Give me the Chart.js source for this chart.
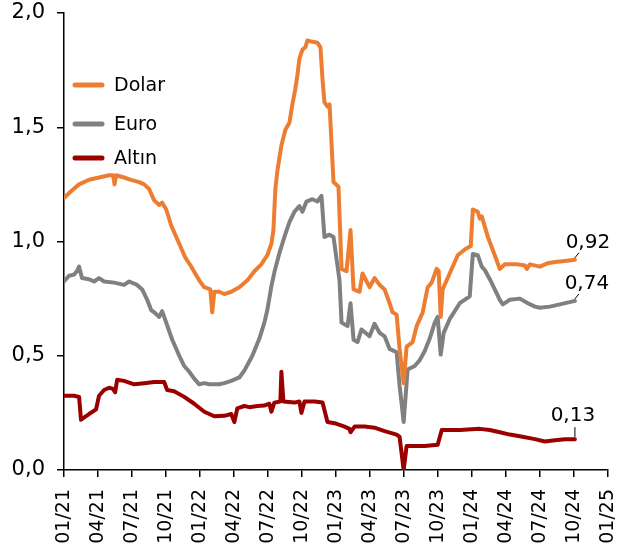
<!DOCTYPE html>
<html>
<head>
<meta charset="utf-8">
<script src="https://cdn.jsdelivr.net/npm/chart.js@4/dist/chart.umd.min.js"></script>
<style>
  html, body { margin: 0; padding: 0; background: #ffffff; }
  #wrap { width: 630px; height: 550px; }
</style>
</head>
<body>
<div id="wrap"><canvas id="c" width="630" height="550"></canvas></div>
<script>
// x values: months since 01/2021
const tickMonths = [0,3,6,9,12,15,18,21,24,27,30,33,36,39,42,45,48];
const tickLabels = ["01/21","04/21","07/21","10/21","01/22","04/22","07/22","10/22","01/23","04/23","07/23","10/23","01/24","04/24","07/24","10/24","01/25"];
const yTicks = [0, 0.5, 1.0, 1.5, 2.0];
const seriesNames = ["Dolar", "Euro", "Altın"];
const endLabels = ["0,92", "0,74", "0,13"];

const dolarMonths = [0.00,0.62,1.33,2.21,3.09,3.98,4.33,4.46,4.60,5.30,5.92,6.63,7.07,7.51,7.96,8.40,8.66,9.02,9.46,10.17,10.70,11.23,11.93,12.38,12.91,13.08,13.26,13.70,14.14,14.76,15.47,16.18,16.80,17.41,17.94,18.30,18.48,18.65,18.83,19.18,19.54,19.89,20.15,20.42,20.60,20.77,21.04,21.30,21.48,21.83,22.36,22.63,22.81,22.98,23.25,23.43,23.78,24.22,24.49,24.93,25.28,25.55,26.08,26.34,26.96,27.40,27.85,28.29,28.73,28.99,29.35,29.61,29.97,30.23,30.76,31.12,31.65,32.09,32.44,32.88,33.06,33.24,33.41,34.03,34.74,35.36,35.89,36.07,36.51,36.69,36.86,37.40,38.01,38.45,38.90,39.34,40.05,40.66,40.84,41.11,41.99,42.70,43.32,44.20,45.08];
const dolarValues = [1.19,1.22,1.25,1.27,1.28,1.29,1.29,1.25,1.29,1.28,1.27,1.26,1.25,1.23,1.18,1.16,1.17,1.14,1.07,0.99,0.93,0.89,0.83,0.80,0.79,0.69,0.78,0.78,0.77,0.78,0.80,0.83,0.87,0.90,0.94,0.99,1.05,1.23,1.31,1.42,1.49,1.52,1.60,1.67,1.73,1.80,1.84,1.85,1.88,1.875,1.87,1.85,1.71,1.61,1.59,1.60,1.26,1.24,0.88,0.87,1.05,0.79,0.78,0.86,0.80,0.84,0.81,0.79,0.73,0.69,0.68,0.53,0.38,0.54,0.56,0.63,0.69,0.80,0.82,0.88,0.87,0.67,0.79,0.86,0.94,0.965,0.98,1.14,1.13,1.10,1.11,1.02,0.94,0.88,0.90,0.90,0.90,0.895,0.88,0.90,0.89,0.905,0.91,0.915,0.92];

const euroMonths = [0.00,0.44,0.88,1.15,1.33,1.59,2.21,2.65,3.09,3.54,4.42,5.30,5.75,6.45,6.90,7.34,7.69,7.96,8.40,8.66,9.02,9.55,10.17,10.61,11.05,11.49,11.93,12.38,12.82,13.70,14.14,14.76,15.47,15.91,16.62,17.24,17.68,17.94,18.30,18.56,19.01,19.45,19.89,20.33,20.77,21.04,21.39,21.92,22.36,22.72,22.98,23.43,23.78,24.31,24.49,25.02,25.28,25.55,25.90,26.25,26.96,27.40,27.85,28.29,28.73,29.35,29.61,29.97,30.32,30.94,31.38,31.82,32.27,32.71,32.97,33.24,33.50,34.03,34.92,35.80,36.07,36.51,36.86,37.13,37.57,38.01,38.45,38.72,39.34,40.22,40.93,41.55,41.99,42.87,43.76,45.08];
const euroValues = [0.825,0.85,0.855,0.87,0.89,0.84,0.835,0.825,0.84,0.825,0.82,0.81,0.825,0.81,0.79,0.745,0.70,0.69,0.67,0.695,0.645,0.57,0.50,0.455,0.43,0.40,0.375,0.38,0.375,0.375,0.38,0.39,0.405,0.435,0.50,0.575,0.645,0.70,0.805,0.865,0.95,1.02,1.085,1.13,1.155,1.13,1.175,1.185,1.175,1.20,1.02,1.03,1.02,0.83,0.645,0.63,0.73,0.57,0.56,0.615,0.585,0.64,0.60,0.585,0.53,0.515,0.37,0.21,0.44,0.455,0.48,0.52,0.575,0.645,0.67,0.505,0.60,0.66,0.73,0.76,0.945,0.94,0.89,0.875,0.835,0.79,0.745,0.725,0.745,0.75,0.73,0.715,0.71,0.715,0.725,0.74];

const altinMonths = [0.00,0.88,1.33,1.50,2.21,2.83,3.09,3.54,3.98,4.33,4.51,4.69,5.30,6.19,7.07,7.96,8.84,9.10,9.72,10.61,11.49,12.38,13.26,14.14,14.76,15.03,15.29,15.91,16.35,17.06,17.68,18.12,18.30,18.56,19.09,19.18,19.36,20.33,20.77,20.95,21.22,22.10,22.81,23.25,23.87,24.75,25.19,25.28,25.64,26.52,27.40,28.29,29.35,29.61,29.97,30.23,30.94,31.82,32.97,33.33,34.03,34.92,36.69,37.57,38.45,39.34,40.22,41.55,42.43,43.32,44.20,45.08];
const altinValues = [0.325,0.325,0.32,0.22,0.245,0.265,0.325,0.35,0.36,0.355,0.34,0.395,0.39,0.375,0.38,0.385,0.385,0.35,0.345,0.32,0.29,0.255,0.235,0.237,0.245,0.21,0.27,0.28,0.275,0.28,0.282,0.29,0.255,0.295,0.30,0.43,0.30,0.295,0.30,0.25,0.30,0.30,0.295,0.21,0.205,0.19,0.18,0.165,0.19,0.19,0.185,0.17,0.155,0.145,0.0,0.105,0.105,0.105,0.11,0.175,0.175,0.175,0.18,0.175,0.165,0.155,0.148,0.135,0.125,0.13,0.135,0.135];

const colors = ["#ED7D31", "#808080", "#9A0000"];

function pts(xs, ys) { return xs.map((x, i) => ({ x: x, y: ys[i] })); }

const FONT = "'DejaVu Sans', Verdana, sans-serif";

const legendPlugin = {
  id: 'customLegend',
  afterDraw(chart) {
    const ctx = chart.ctx;
    const ca = chart.chartArea;
    const rows = [85, 124, 158];
    ctx.save();
    chart.data.datasets.forEach((ds, i) => {
      const y = rows[i];
      ctx.strokeStyle = ds.borderColor;
      ctx.lineWidth = 5;
      ctx.lineCap = 'round';
      ctx.beginPath();
      ctx.moveTo(ca.left + 11, y);
      ctx.lineTo(ca.left + 38, y);
      ctx.stroke();
      ctx.fillStyle = '#000';
      ctx.font = "19px " + FONT;
      ctx.textAlign = 'left';
      ctx.textBaseline = 'middle';
      ctx.fillText(ds.label, ca.left + 50, y + 1);
    });
    ctx.restore();
  }
};

const endLabelPlugin = {
  id: 'endLabels',
  afterDatasetsDraw(chart) {
    const ctx = chart.ctx;
    const offs = [
      { lx: 4, ly: -7, tx: 13, ty: -17 },
      { lx: 4, ly: -7, tx: 12, ty: -17 },
      { lx: 0, ly: -12, tx: -2, ty: -23 }
    ];
    ctx.save();
    chart.data.datasets.forEach((ds, i) => {
      const meta = chart.getDatasetMeta(i);
      const p = meta.data[meta.data.length - 1];
      const o = offs[i];
      ctx.strokeStyle = '#000';
      ctx.lineWidth = 1;
      ctx.beginPath();
      ctx.moveTo(p.x, p.y - 2);
      ctx.lineTo(p.x + o.lx, p.y + o.ly);
      ctx.stroke();
      ctx.fillStyle = '#000';
      ctx.font = "20px " + FONT;
      ctx.textAlign = 'center';
      ctx.textBaseline = 'middle';
      ctx.fillText(endLabels[i], p.x + o.tx, p.y + o.ty);
    });
    ctx.restore();
  }
};

new Chart(document.getElementById('c'), {
  type: 'line',
  data: {
    datasets: [
      { label: seriesNames[0], data: pts(dolarMonths, dolarValues), borderColor: colors[0] },
      { label: seriesNames[1], data: pts(euroMonths, euroValues), borderColor: colors[1] },
      { label: seriesNames[2], data: pts(altinMonths, altinValues), borderColor: colors[2] }
    ].map(d => Object.assign(d, { borderWidth: 4, pointRadius: 0, tension: 0, fill: false, borderJoinStyle: 'round', borderCapStyle: 'round' }))
  },
  options: {
    responsive: false,
    animation: false,
    devicePixelRatio: 1,
    layout: { padding: { left: 0, top: 13, right: 22, bottom: 0 } },
    plugins: { legend: { display: false }, tooltip: { enabled: false } },
    scales: {
      x: {
        type: 'linear',
        min: 0, max: 48,
        afterBuildTicks(scale) { scale.ticks = tickMonths.map(v => ({ value: v })); },
        afterFit(scale) { scale.height = 80; scale.paddingLeft = 0; scale.paddingRight = 0; },
        ticks: {
          autoSkip: false,
          minRotation: 90, maxRotation: 90,
          padding: 12,
          color: '#000',
          font: { family: FONT, size: 19 },
          callback: (v) => { const i = tickMonths.indexOf(v); return i >= 0 ? tickLabels[i] : ''; }
        },
        grid: { display: true, drawOnChartArea: false, drawTicks: true, tickLength: 7, color: '#000', lineWidth: 1.5 },
        border: { display: true, color: '#000', width: 1.5 }
      },
      y: {
        type: 'linear',
        min: 0, max: 2,
        afterBuildTicks(scale) { scale.ticks = yTicks.map(v => ({ value: v })); },
        afterFit(scale) { scale.width = 64; scale.paddingTop = 0; scale.paddingBottom = 0; },
        ticks: {
          padding: 12,
          color: '#000',
          font: { family: FONT, size: 21 },
          callback: (v) => v.toFixed(1).replace('.', ',')
        },
        grid: { display: true, drawOnChartArea: false, drawTicks: true, tickLength: 7, color: '#000', lineWidth: 1.5 },
        border: { display: true, color: '#000', width: 1.5 }
      }
    }
  },
  plugins: [legendPlugin, endLabelPlugin]
});
</script>
</body>
</html>
